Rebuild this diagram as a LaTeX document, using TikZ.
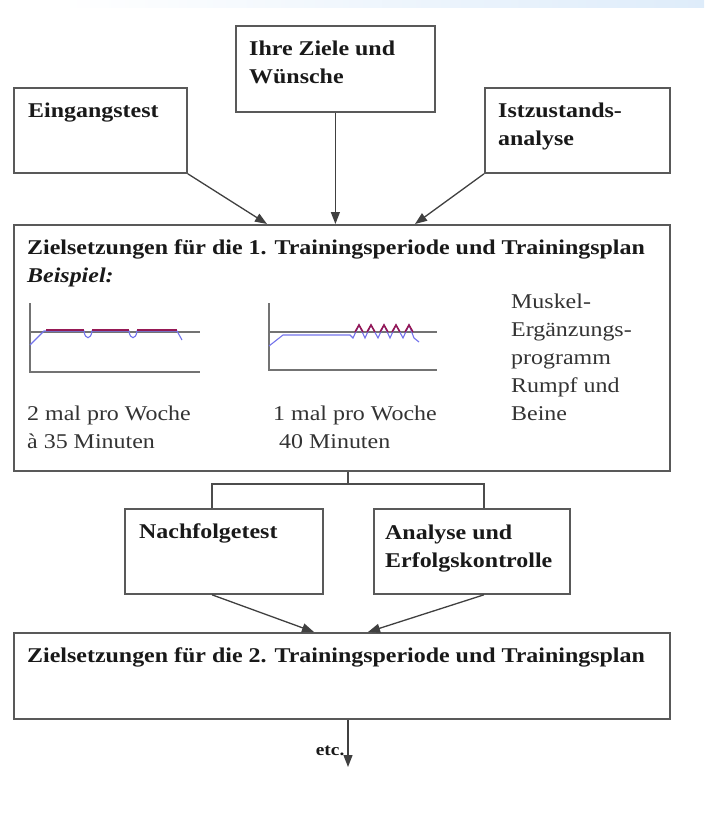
\documentclass[tikz,border=0pt]{standalone}
\usepackage{fontspec}
\setmainfont[FakeStretch=1.14]{Liberation Serif}
\usetikzlibrary{positioning}
\usetikzlibrary{calc}
\usetikzlibrary{arrows.meta}

\definecolor{loadblue}{RGB}{115,115,235}
\definecolor{planred}{RGB}{150,25,85}
\definecolor{bandblue}{RGB}{222,236,250}

\begin{document}
\begin{tikzpicture}
	[x=1pt, y=-1pt]

\useasboundingbox (0,0) rectangle (704,821);

\def\BoxHeight{85}
\def\PlanWidth{656}

% Styles
\tikzstyle{box} =
	[draw=black!65, line width=1.8pt, inner sep=0pt, anchor=north west]

% multi-line texts sit on the baseline of their last line
\tikzstyle{box text} =
	[inner sep=0pt, anchor=base west, align=left, text=black!90,
	 font=\fontsize{21}{28}\selectfont\bfseries]

\tikzstyle{plain text} =
	[box text, text=black!80, font=\fontsize{21}{28}\selectfont]

\tikzstyle{flow} =
	[draw=black!75, line width=1.3pt, -{Triangle[length=12pt,width=9pt]}]

\tikzstyle{link} =
	[draw=black!70, line width=1.5pt]

\tikzstyle{axis line} =
	[draw=black!55, line width=1.6pt]

\tikzstyle{load line} =
	[draw=loadblue, line width=1.1pt]

\tikzstyle{plan line} =
	[draw=planred, line width=2.6pt]

% Band
\shade[left color=white, right color=bandblue] (60,0) rectangle (704,8);

% Boxes

\node (Eingangstest) at (13,87)
	[box, minimum width=173, minimum height=\BoxHeight] {};
\node (EingangstestText) [box text] at ($(Eingangstest.north west)+(15,31)$)
	{Eingangstest};

\node (Ziele) at (235,25)
	[box, minimum width=199, minimum height=86] {};
\node (ZieleText) [box text] at ($(Ziele.north west)+(14,59)$)
	{Ihre Ziele und\\Wünsche};

\node (Istzustand) at (484,87)
	[box, minimum width=185, minimum height=\BoxHeight] {};
\node (IstzustandText) [box text] at ($(Istzustand.north west)+(14,59)$)
	{Istzustands-\\analyse};

\node (PlanEins) at (13,224)
	[box, minimum width=\PlanWidth, minimum height=246] {};
\node (PlanEinsText) [box text] at ($(PlanEins.north west)+(14,58)$)
	{Zielsetzungen für die 1. Trainingsperiode und Trainingsplan\\\textit{Beispiel:}};

\node (WocheZwei) [plain text] at (27,448) {2 mal pro Woche\\à 35 Minuten};
\node (WocheEins) [plain text] at (273,448) {1 mal pro Woche\\\ 40 Minuten};
\node (Muskel) [plain text] at (511,420)
	{Muskel-\\Ergänzungs-\\programm\\Rumpf und\\Beine};

\node (Nachfolgetest) at (124,508)
	[box, minimum width=198, minimum height=\BoxHeight] {};
\node (NachfolgetestText) [box text] at ($(Nachfolgetest.north west)+(15,30)$)
	{Nachfolgetest};

\node (Analyse) at (373,508)
	[box, minimum width=196, minimum height=\BoxHeight] {};
\node (AnalyseText) [box text] at ($(Analyse.north west)+(12,59)$)
	{Analyse und\\Erfolgskontrolle};

\node (PlanZwei) at (13,632)
	[box, minimum width=\PlanWidth, minimum height=86] {};
\node (PlanZweiText) [box text] at ($(PlanZwei.north west)+(14,30)$)
	{Zielsetzungen für die 2. Trainingsperiode und Trainingsplan};

% Charts
\draw[axis line] (30,303) |- (200,372);
\draw[axis line] (30,332) -- (200,332);
\draw[load line] (30,345) -- (44,331) -- (84,331)
	.. controls (85,340) and (91,340) .. (92,331) -- (129,331)
	.. controls (130,340) and (136,340) .. (137,331) -- (177,331) -- (182,340);
\draw[plan line] (46,330) -- (84,330) (92,330) -- (129,330) (137,330) -- (177,330);

\draw[axis line] (269,303) |- (437,370);
\draw[axis line] (269,332) -- (437,332);
\draw[load line] (269,346) -- (283,335) -- (350,335)
	-- (353,338) -- (359,325) -- (365,338) -- (371,325) -- (378,338)
	-- (384,325) -- (390,338) -- (396,325) -- (403,338) -- (409,325)
	-- (414,338) -- (419,342);
\foreach \Peak in {359,371,384,396,409}
	\draw[plan line, line width=1.6pt] (\Peak-4,332) -- (\Peak,325) -- (\Peak+4,332);

% Edges

\coordinate (EingangTip) at (267,224);
\coordinate (IstTip) at (415,224);
\draw[flow] (Eingangstest.south east) -- (EingangTip);
\draw[flow] (Ziele.south) -- (Ziele.south |- PlanEins.north);
\draw[flow] (Istzustand.south west) -- (IstTip);

\coordinate (Split) at (348,484);
\coordinate (SplitLeft) at (212,484);
\coordinate (SplitRight) at (484,484);
\draw[link] (Split |- PlanEins.south) -- (Split);
\draw[link] (SplitLeft |- Nachfolgetest.north) -- (SplitLeft)
	-- (SplitRight) -- (SplitRight |- Analyse.north);

\coordinate (NachTip) at (314,632);
\coordinate (AnalyseTip) at (368,632);
\draw[flow] (SplitLeft |- Nachfolgetest.south) -- (NachTip);
\draw[flow] (SplitRight |- Analyse.south) -- (AnalyseTip);

\coordinate (Etc) at (348,767);
\draw[flow] (Split |- PlanZwei.south) -- (Etc)
	node[pos=0.65, left, inner sep=3pt, text=black!90,
	     font=\fontsize{17}{20}\selectfont\bfseries] (EtcText) {etc.};

\end{tikzpicture}
\end{document}
